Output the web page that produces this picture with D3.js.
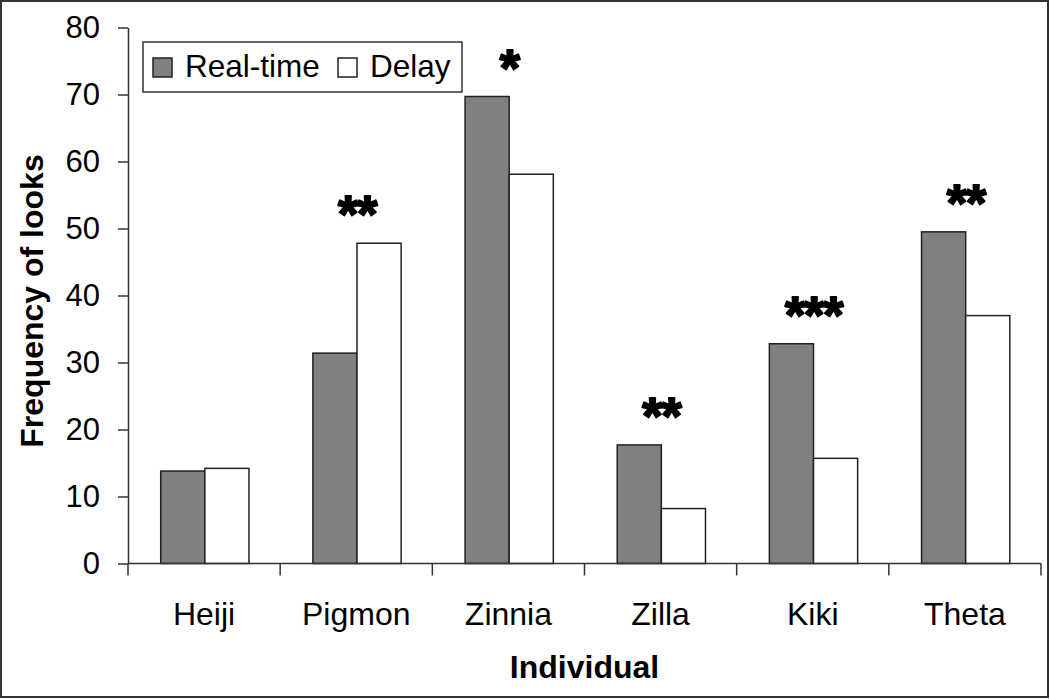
<!DOCTYPE html>
<html>
<head>
<meta charset="utf-8">
<script src="https://cdn.jsdelivr.net/npm/d3@7"></script>
<style>
  body { margin: 0; background: #fff; }
  text { font-family: "Liberation Sans", Arial, sans-serif; fill: #000; }
</style>
</head>
<body>
<svg width="1050" height="700"></svg>
<script>
const individuals = ['Heiji', 'Pigmon', 'Zinnia', 'Zilla', 'Kiki', 'Theta']
const series = ['Real-time', 'Delay']
const realTime = [13.8, 31.4, 69.7, 17.7, 32.8, 49.5]
const delay = [14.2, 47.8, 58.1, 8.2, 15.7, 37.0]
const significance = ['', '**', '*', '**', '***', '**']
const yTicks = [0, 10, 20, 30, 40, 50, 60, 70, 80]

const colors = { 'Real-time': '#808080', 'Delay': '#ffffff' }

const rows = individuals.map((name, i) => ({
    name,
    values: [realTime[i], delay[i]],
    sig: significance[i]
}))

const svg = d3.select('svg')

// outer frame
svg.append('rect')
    .attr('x', 1).attr('y', 1)
    .attr('width', 1047).attr('height', 696)
    .attr('fill', 'none')
    .attr('stroke', '#333')
    .attr('stroke-width', 2)

const plotLeft = 128, plotRight = 1041, plotTop = 27.5, plotBottom = 563.5

const x = d3.scaleBand()
    .domain(individuals)
    .range([plotLeft, plotRight])
const bw = x.bandwidth()
const x1 = d3.scaleBand()
    .domain(series)
    .range([bw * 0.215, bw * 0.795])
const y = d3.scaleLinear()
    .domain([0, 80])
    .range([plotBottom, plotTop])

// y axis
const yAxis = svg.append('g')
    .attr('transform', `translate(${plotLeft},0)`)
    .call(d3.axisLeft(y).tickValues(yTicks).tickSize(10).tickSizeOuter(0).tickPadding(18))
yAxis.select('.domain').attr('stroke', '#333').attr('stroke-width', 1.5)
yAxis.selectAll('.tick line').attr('stroke', '#333').attr('stroke-width', 1.5)
yAxis.selectAll('.tick text')
    .style('font-family', '"Liberation Sans", Arial, sans-serif')
    .style('font-size', '31px')
    .attr('fill', '#000')

// bars
const groups = svg.append('g')
    .selectAll('g')
    .data(rows)
    .enter()
    .append('g')
    .attr('transform', d => `translate(${x(d.name)},0)`)

groups.selectAll('rect')
    .data(d => d.values.map((v, j) => ({ key: series[j], value: v })))
    .enter()
    .append('rect')
    .attr('x', d => x1(d.key))
    .attr('y', d => y(d.value))
    .attr('width', x1.bandwidth())
    .attr('height', d => y(0) - y(d.value))
    .attr('fill', d => colors[d.key])
    .attr('stroke', '#222')
    .attr('stroke-width', 1.5)

// significance stars, chunky like the original
const starSize = 52
groups.append('text')
    .attr('x', bw / 2 + 1)
    .attr('y', d => y(d3.max(d.values)) - 38 + starSize * 0.52)
    .attr('text-anchor', 'middle')
    .style('font-size', starSize + 'px')
    .style('font-weight', 'bold')
    .style('letter-spacing', '-1px')
    .attr('stroke', '#000')
    .attr('stroke-width', 2)
    .attr('stroke-linejoin', 'round')
    .text(d => d.sig)

// x axis baseline and ticks at band edges
svg.append('line')
    .attr('x1', plotLeft).attr('x2', plotRight)
    .attr('y1', plotBottom).attr('y2', plotBottom)
    .attr('stroke', '#333').attr('stroke-width', 1.5)

const edges = individuals.map(d => x(d)).concat([plotRight])
svg.append('g')
    .selectAll('line')
    .data(edges)
    .enter()
    .append('line')
    .attr('x1', d => d).attr('x2', d => d)
    .attr('y1', plotBottom).attr('y2', plotBottom + 12)
    .attr('stroke', '#333').attr('stroke-width', 1.5)

svg.append('g')
    .selectAll('text')
    .data(individuals)
    .enter()
    .append('text')
    .attr('x', d => x(d) + bw / 2)
    .attr('y', 625)
    .attr('text-anchor', 'middle')
    .style('font-size', '32px')
    .text(d => d)

// axis titles
svg.append('text')
    .attr('x', (plotLeft + plotRight) / 2)
    .attr('y', 678)
    .attr('text-anchor', 'middle')
    .style('font-size', '32px')
    .style('font-weight', 'bold')
    .text('Individual')

svg.append('text')
    .attr('transform', 'translate(43,301) rotate(-90)')
    .attr('text-anchor', 'middle')
    .style('font-size', '32px')
    .style('font-weight', 'bold')
    .text('Frequency of looks')

// legend
const legend = svg.append('g')
legend.append('rect')
    .attr('x', 143).attr('y', 42)
    .attr('width', 319).attr('height', 50)
    .attr('fill', '#fff')
    .attr('stroke', '#333').attr('stroke-width', 1.5)

const legendX = [153, 338]
const legendItems = legend.selectAll('g.item')
    .data(series)
    .enter()
    .append('g')
    .attr('class', 'item')
    .attr('transform', (d, i) => `translate(${legendX[i]},0)`)
legendItems.append('rect')
    .attr('x', 0).attr('y', 58)
    .attr('width', 19).attr('height', 19)
    .attr('fill', d => colors[d])
    .attr('stroke', '#222').attr('stroke-width', 1.5)
legendItems.append('text')
    .attr('x', 32).attr('y', 77)
    .style('font-size', '31.5px')
    .text(d => d)
</script>
</body>
</html>
